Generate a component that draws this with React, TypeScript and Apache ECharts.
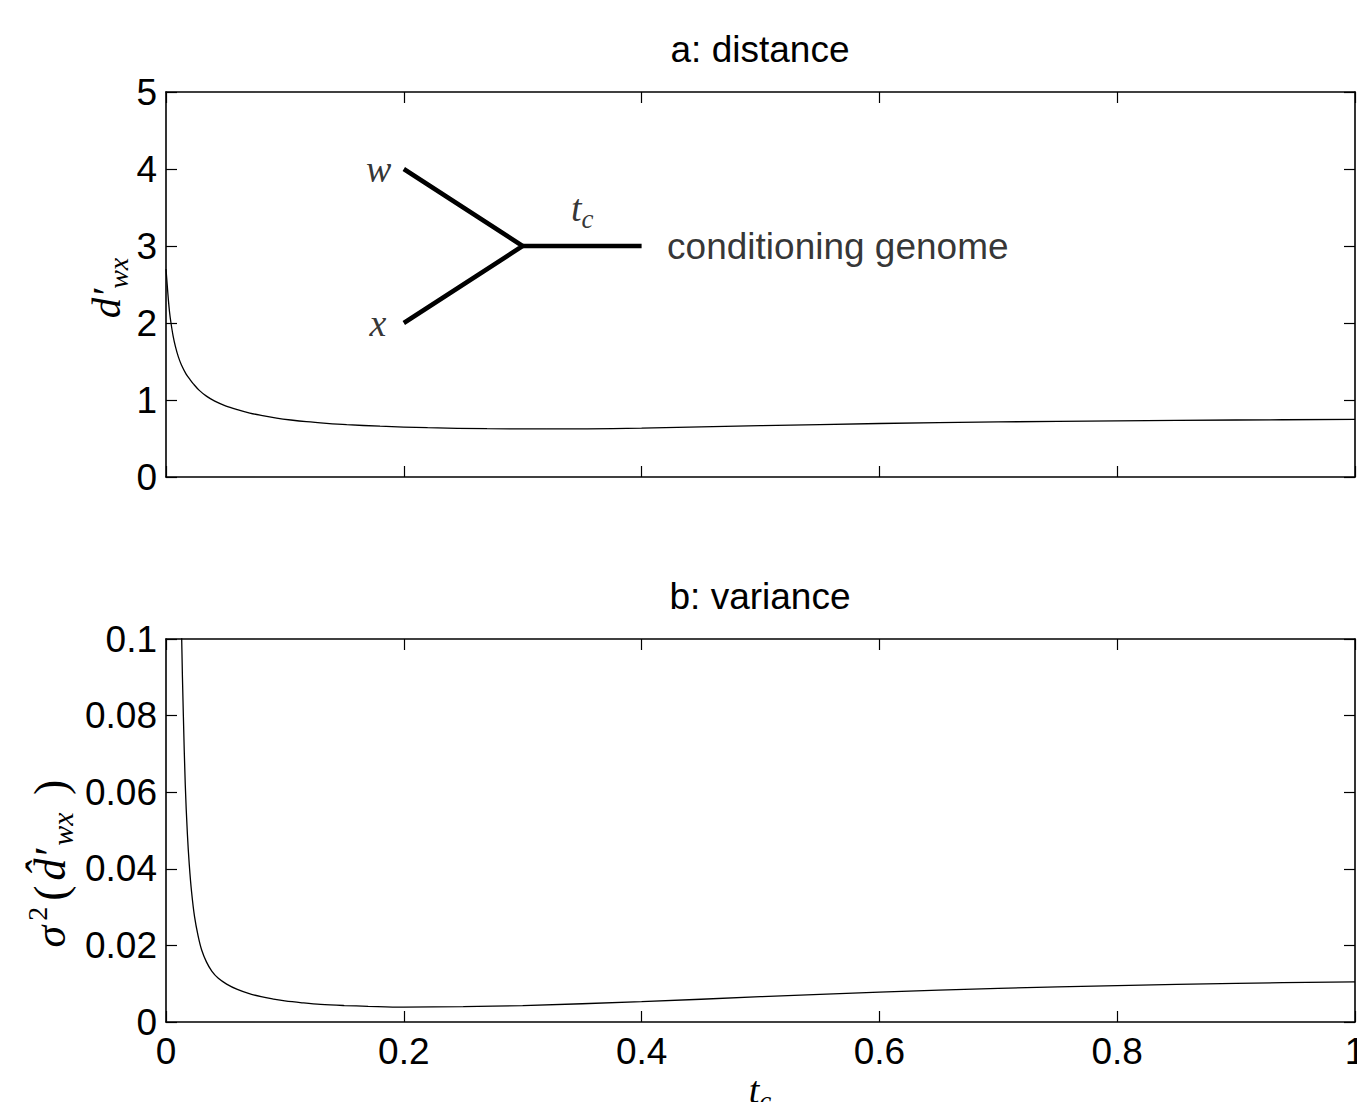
import React, { useEffect, useRef } from "react";
import * as echarts from "echarts";

// ---- data ----
const tDistance = [0, 0.001, 0.002, 0.003, 0.004, 0.006, 0.008, 0.0104, 0.013, 0.0168, 0.02, 0.023, 0.028, 0.034, 0.041, 0.05, 0.06, 0.0705, 0.08, 0.093, 0.105, 0.118, 0.135, 0.152, 0.18, 0.22, 0.27, 0.32, 0.4, 0.5, 0.6, 0.7, 0.8, 0.9, 1.0];
const dDistance = [2.7, 2.5, 2.3, 2.14, 2.02, 1.83, 1.69, 1.56, 1.455, 1.34, 1.27, 1.21, 1.125, 1.05, 0.985, 0.925, 0.875, 0.83, 0.8, 0.765, 0.74, 0.718, 0.697, 0.68, 0.66, 0.64, 0.627, 0.624, 0.636, 0.666, 0.695, 0.715, 0.73, 0.74, 0.748];

const tVariance = [0.01, 0.0132, 0.0146, 0.0162, 0.018, 0.0196, 0.0215, 0.024, 0.027, 0.03, 0.034, 0.0385, 0.044, 0.051, 0.06, 0.07, 0.08, 0.09, 0.1, 0.115, 0.13, 0.15, 0.17, 0.2, 0.25, 0.3, 0.4, 0.5, 0.6, 0.7, 0.8, 0.9, 1.0];
const vVariance = [0.17, 0.1, 0.08, 0.062, 0.049, 0.041, 0.034, 0.0275, 0.0225, 0.0188, 0.0157, 0.0133, 0.0114, 0.0099, 0.0085, 0.0074, 0.0066, 0.006, 0.0055, 0.005, 0.0046, 0.0043, 0.0041, 0.0039, 0.004, 0.0043, 0.0053, 0.0066, 0.0078, 0.0088, 0.0095, 0.0101, 0.0105];

const xMin = 0, xMax = 1, xInterval = 0.2;
const distMin = 0, distMax = 5, distInterval = 1;
const varMin = 0, varMax = 0.1, varInterval = 0.02;

// inset tree (data coordinates of panel a)
const treeBranches = [[0.2, 4], [0.3, 3], [0.2, 2]];
const treeStem = [[0.3, 3], [0.4, 3]];
const leafW = [0.2, 4];
const leafX = [0.2, 2];
const stemLabelPos = [0.35, 3.5];
const stemEnd = [0.4, 3];

const titleA = "a: distance";
const titleB = "b: variance";
const genomeText = "conditioning genome";

const SANS = "'Liberation Sans', Arial, Helvetica, sans-serif";
const SERIF = "'Liberation Serif', 'DejaVu Serif', serif";

const mathRich = {
  i: { fontFamily: SERIF, fontStyle: "italic", fontSize: 38, color: "#000", verticalAlign: "middle" },
  n: { fontFamily: SERIF, fontSize: 38, color: "#000", verticalAlign: "middle" },
  s: { fontFamily: SERIF, fontStyle: "italic", fontSize: 27, color: "#000", verticalAlign: "middle", padding: [22, 0, 0, 0] },
  p: { fontFamily: SERIF, fontSize: 26, color: "#000", verticalAlign: "middle", padding: [0, 0, 24, 0] },
};

const yLabelRich = {
  i: { fontFamily: SERIF, fontStyle: "italic", fontSize: 41, color: "#000", verticalAlign: "middle" },
  s: { fontFamily: SERIF, fontStyle: "italic", fontSize: 28, color: "#000", verticalAlign: "middle", padding: [24, 0, 0, 0] },
};

const bigRich = {
  i: { fontFamily: SERIF, fontStyle: "italic", fontSize: 44, color: "#000", verticalAlign: "middle", padding: [0, 3, 0, 3] },
  n: { fontFamily: SERIF, fontSize: 46, color: "#000", verticalAlign: "middle", padding: [0, 2, 0, 2] },
  s: { fontFamily: SERIF, fontStyle: "italic", fontSize: 30, color: "#000", verticalAlign: "middle", padding: [24, 4, 0, 0] },
  p: { fontFamily: SERIF, fontSize: 28, color: "#000", verticalAlign: "middle", padding: [0, 4, 26, 2] },
};

const axisLineStyle = { color: "#000", width: 1.6 };

function xAx(gridIndex: number, position: string, showLabel: boolean) {
  return {
    type: "value",
    gridIndex,
    position,
    min: xMin,
    max: xMax,
    interval: xInterval,
    axisLine: { show: true, onZero: false, lineStyle: axisLineStyle },
    axisTick: { show: true, inside: true, length: 11, lineStyle: { color: "#000", width: 1.2 } },
    axisLabel: {
      show: showLabel,
      color: "#000",
      fontFamily: SANS,
      fontSize: 37,
      margin: 11,
      hideOverlap: false,
    },
    splitLine: { show: false },
  };
}

function yAx(gridIndex: number, position: string, showLabel: boolean, min: number, max: number, interval: number) {
  return {
    type: "value",
    gridIndex,
    position,
    min,
    max,
    interval,
    axisLine: { show: true, onZero: false, lineStyle: axisLineStyle },
    axisTick: { show: true, inside: true, length: 11, lineStyle: { color: "#000", width: 1.2 } },
    axisLabel: {
      show: showLabel,
      color: "#000",
      fontFamily: SANS,
      fontSize: 37,
      margin: 9,
      hideOverlap: false,
    },
    splitLine: { show: false },
  };
}

export default function App() {
  const ref = useRef<HTMLDivElement>(null);

  useEffect(() => {
    if (!ref.current) return;
    const chart = echarts.init(ref.current, null, { renderer: "svg" });

    const option: any = {
      animation: false,
      backgroundColor: "#fff",
      grid: [
        { left: 166, top: 92, width: 1189, height: 385, outerBoundsMode: "none", containLabel: false },
        { left: 166, top: 639, width: 1189, height: 383, outerBoundsMode: "none", containLabel: false },
      ],
      xAxis: [xAx(0, "bottom", false), xAx(0, "top", false), xAx(1, "bottom", true), xAx(1, "top", false)],
      yAxis: [
        yAx(0, "left", true, distMin, distMax, distInterval),
        yAx(0, "right", false, distMin, distMax, distInterval),
        yAx(1, "left", true, varMin, varMax, varInterval),
        yAx(1, "right", false, varMin, varMax, varInterval),
      ],
      series: [
        {
          type: "line",
          xAxisIndex: 0,
          yAxisIndex: 0,
          data: tDistance.map((t, i) => [t, dDistance[i]]),
          showSymbol: false,
          symbol: "none",
          smooth: 0.35,
          lineStyle: { color: "#000", width: 1.3 },
          silent: true,
          z: 3,
        },
        {
          type: "line",
          xAxisIndex: 2,
          yAxisIndex: 2,
          data: tVariance.map((t, i) => [t, vVariance[i]]),
          showSymbol: false,
          symbol: "none",
          smooth: 0.35,
          clip: true,
          lineStyle: { color: "#000", width: 1.3 },
          silent: true,
          z: 3,
        },
        {
          type: "line",
          xAxisIndex: 0,
          yAxisIndex: 0,
          data: treeBranches,
          showSymbol: false,
          symbol: "none",
          lineStyle: { color: "#000", width: 4.5, join: "miter", cap: "butt" },
          silent: true,
        },
        {
          type: "line",
          xAxisIndex: 0,
          yAxisIndex: 0,
          data: treeStem,
          showSymbol: false,
          symbol: "none",
          lineStyle: { color: "#000", width: 4.5, cap: "butt" },
          silent: true,
        },
        {
          type: "scatter",
          xAxisIndex: 0,
          yAxisIndex: 0,
          symbolSize: 1,
          itemStyle: { color: "rgba(0,0,0,0)" },
          silent: true,
          data: [
            { value: leafW, label: { show: true, position: "left", distance: 12, formatter: "{i|w}", rich: mathRich } },
            { value: leafX, label: { show: true, position: "left", distance: 17, formatter: "{i|x}", rich: mathRich } },
            { value: stemLabelPos, label: { show: true, position: "inside", formatter: "{i|t}{s|c}", rich: mathRich } },
            {
              value: stemEnd,
              label: { show: true, position: "right", distance: 25, formatter: genomeText, color: "#000", fontFamily: SANS, fontSize: 37 },
            },
          ],
        },
      ],
      graphic: [
        {
          type: "text",
          x: 760,
          y: 49,
          silent: true,
          style: { text: titleA, fill: "#000", font: `37px ${SANS}`, align: "center", verticalAlign: "middle" },
        },
        {
          type: "text",
          x: 760,
          y: 596,
          silent: true,
          style: { text: titleB, fill: "#000", font: `37px ${SANS}`, align: "center", verticalAlign: "middle" },
        },
        {
          type: "text",
          x: 106,
          y: 288,
          rotation: Math.PI / 2,
          silent: true,
          style: { text: "{i|d′}{s|wx}", rich: yLabelRich, align: "center", verticalAlign: "middle" },
        },
        {
          type: "text",
          x: 50,
          y: 864,
          rotation: Math.PI / 2,
          silent: true,
          style: { text: "{i|σ}{p|2}{n|(}{i|d̂′}{s|wx}{n| )}", rich: bigRich, align: "center", verticalAlign: "middle" },
        },
        {
          type: "text",
          x: 760,
          y: 1065,
          silent: true,
          style: { text: "{i|t}{s|c}", rich: mathRich, align: "center", verticalAlign: "top" },
        },
      ],
    };

    chart.setOption(option);
    return () => chart.dispose();
  }, []);

  return (
    <div
      ref={ref}
      style={{ position: "absolute", left: 0, top: 0, width: 1357, height: 1102, background: "#fff" }}
    />
  );
}
